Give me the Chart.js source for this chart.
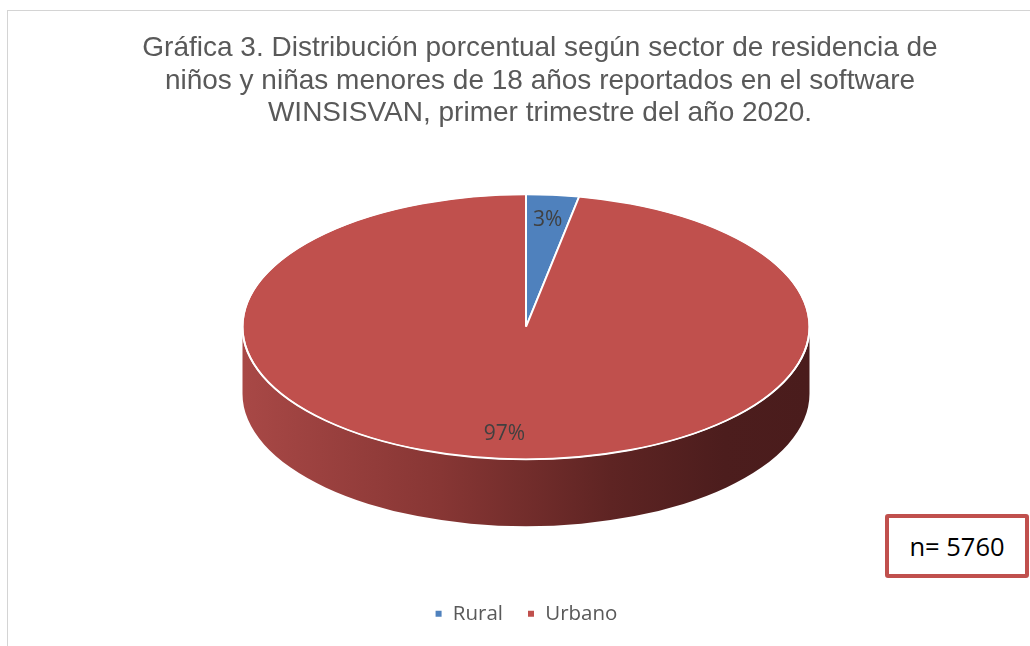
<!DOCTYPE html>
<html>
<head>
<meta charset="utf-8">
<script src="https://cdn.jsdelivr.net/npm/chart.js@4.4.1/dist/chart.umd.min.js"></script>
<style>
  html, body { margin: 0; padding: 0; background: #ffffff; overflow: hidden; }
  #wrap { position: relative; width: 1030px; height: 646px; }
  #frame { position: absolute; left: 7px; top: 10px; width: 1100px; height: 700px;
           border: 1.5px solid #d4d4d4; box-sizing: border-box; }
  #chart { position: absolute; left: 0; top: 0; }
  #title { position: absolute; left: 40px; top: 31px; width: 1000px; text-align: center;
           font-family: "Liberation Sans", Arial, sans-serif; font-size: 28px; line-height: 32.5px;
           color: #595959; }
  #nbox { position: absolute; left: 885px; top: 514px; width: 144px; height: 64px;
          border: 4.5px solid #c0504d; border-radius: 3px; box-sizing: border-box; background: #fff;
          font-family: "Open Sans", sans-serif; font-size: 25.5px; color: #000;
          display: flex; align-items: center; justify-content: center; }
</style>
</head>
<body>
<div id="wrap">
  <div id="frame"></div>
  <canvas id="chart" width="1030" height="646"></canvas>
  <div id="title"></div>
  <div id="nbox">n= 5760</div>
</div>
<script>
// ---- data ----
const titleLines = [
  'Gráfica 3. Distribución porcentual según sector de residencia de',
  'niños y niñas menores de 18 años reportados en el software',
  'WINSISVAN, primer trimestre del año 2020.'
];
const categories = ['Rural', 'Urbano'];
const values = [3, 97];
const colors = ['#4f81bd', '#c0504d'];

document.getElementById('title').innerHTML = titleLines.join('<br>');

// ---- 3D look parameters ----
const TILT = 0.4674;        // ry / rx of the top face
const DEPTH = 0.236;        // side height / rx
const LABEL_POS = 0.81;     // label position along the radius

function sideGradient(ctx, cx, r, base) {
  const g = ctx.createLinearGradient(cx - r, 0, cx + r, 0);
  if (base === '#c0504d') {
    g.addColorStop(0, '#a84846');
    g.addColorStop(0.35, '#873634');
    g.addColorStop(0.65, '#5e2423');
    g.addColorStop(0.85, '#4c1d1d');
    g.addColorStop(1, '#4a1c1c');
  } else {
    g.addColorStop(0, '#41699a');
    g.addColorStop(1, '#1f3552');
  }
  return g;
}

const pie3d = {
  id: 'pie3d',
  beforeDatasetsDraw(chart) {
    const ctx = chart.ctx;
    const arcs = chart.getDatasetMeta(0).data;
    if (!arcs.length) return;
    const cx = arcs[0].x, cy0 = arcs[0].y, r = arcs[0].outerRadius;
    const ry = r * TILT, d = r * DEPTH;
    const cyTop = cy0 - d / 2;
    chart.$pie = { cx, cy0, r, ry, d, cyTop };
    // side walls (front half only)
    arcs.forEach((arc, i) => {
      for (let k = -1; k <= 1; k++) {
        const a0 = Math.max(arc.startAngle, 2 * Math.PI * k);
        const a1 = Math.min(arc.endAngle, Math.PI + 2 * Math.PI * k);
        if (a1 <= a0) continue;
        ctx.save();
        ctx.beginPath();
        ctx.ellipse(cx, cyTop, r, ry, 0, a0, a1, false);
        ctx.ellipse(cx, cyTop + d, r, ry, 0, a1, a0, true);
        ctx.closePath();
        ctx.fillStyle = sideGradient(ctx, cx, r, colors[i]);
        ctx.fill();
        ctx.restore();
      }
    });
    // squash the top face
    ctx.save();
    ctx.translate(0, cyTop);
    ctx.scale(1, TILT);
    ctx.translate(0, -cy0);
  },
  afterDatasetsDraw(chart) {
    const ctx = chart.ctx;
    ctx.restore();
    const p = chart.$pie;
    if (!p) return;
    // white rim of the top face
    ctx.save();
    ctx.beginPath();
    ctx.ellipse(p.cx, p.cyTop, p.r, p.ry, 0, 0, 2 * Math.PI);
    ctx.strokeStyle = '#ffffff';
    ctx.lineWidth = 1.8;
    ctx.stroke();
    ctx.restore();
    // data labels
    const arcs = chart.getDatasetMeta(0).data;
    const total = values.reduce((a, b) => a + b, 0);
    ctx.save();
    ctx.font = '21px "Open Sans"';
    ctx.fillStyle = '#404040';
    ctx.textAlign = 'center';
    ctx.textBaseline = 'middle';
    arcs.forEach((arc, i) => {
      const mid = (arc.startAngle + arc.endAngle) / 2;
      const x = p.cx + p.r * LABEL_POS * Math.cos(mid);
      const y = p.cyTop + p.ry * LABEL_POS * Math.sin(mid);
      ctx.fillText(Math.round(values[i] / total * 100) + '%', x, y);
    });
    ctx.restore();
  }
};

new Chart(document.getElementById('chart'), {
  type: 'pie',
  data: {
    labels: categories,
    datasets: [{
      data: values,
      backgroundColor: colors,
      borderColor: '#ffffff',
      borderWidth: 2,
      radius: 283.5,
      clip: false
    }]
  },
  options: {
    responsive: false,
    animation: false,
    events: [],
    layout: { padding: { left: 22, right: 0, top: 141, bottom: 12 } },
    plugins: {
      title: { display: false },
      legend: {
        position: 'bottom',
        labels: {
          color: '#595959',
          font: { family: '"Open Sans", sans-serif', size: 20.5 },
          boxWidth: 8,
          boxHeight: 8,
          padding: 24
        }
      },
      tooltip: { enabled: false }
    }
  },
  plugins: [pie3d]
});
</script>
</body>
</html>
